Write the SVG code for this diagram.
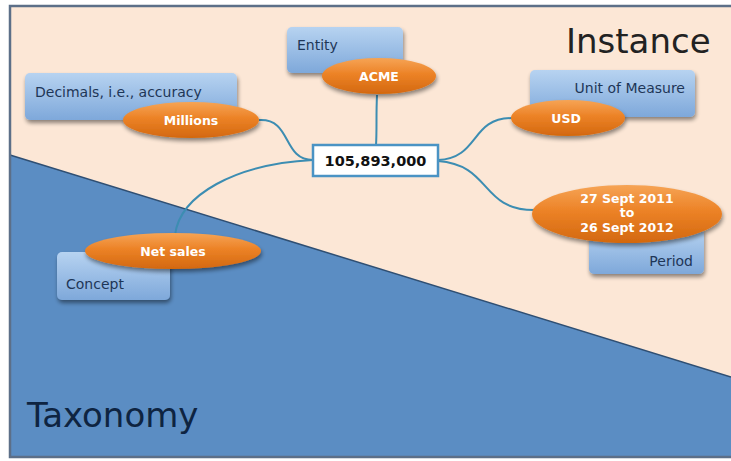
<svg xmlns="http://www.w3.org/2000/svg" width="731" height="461" viewBox="0 0 731 461">
<defs>
<linearGradient id="boxGrad" x1="0" y1="0" x2="0" y2="1">
<stop offset="0" stop-color="#B7D3F1"/>
<stop offset="1" stop-color="#7EA8DA"/>
</linearGradient>
<linearGradient id="ovalGrad" x1="0" y1="0" x2="0" y2="1">
<stop offset="0" stop-color="#F6A455"/>
<stop offset="0.45" stop-color="#EC8226"/>
<stop offset="1" stop-color="#D3680F"/>
</linearGradient>
<filter id="shadow" x="-20%" y="-30%" width="140%" height="170%">
<feGaussianBlur in="SourceAlpha" stdDeviation="2"/>
<feOffset dx="1" dy="3" result="b"/>
<feComponentTransfer><feFuncA type="linear" slope="0.45"/></feComponentTransfer>
<feMerge><feMergeNode/><feMergeNode in="SourceGraphic"/></feMerge>
</filter>
</defs>
<style>
.box{fill:url(#boxGrad);filter:url(#shadow);}
.oval{fill:url(#ovalGrad);filter:url(#shadow);}
.btxt{font-family:"DejaVu Sans",Verdana,sans-serif;font-size:14px;fill:#1E3657;}
.otxt{font-family:"DejaVu Sans",Verdana,sans-serif;font-size:12.5px;font-weight:bold;fill:#FFFFFF;text-anchor:middle;}
.conn{fill:none;stroke:#3C8DB2;stroke-width:2;}
.big{font-family:"DejaVu Sans",Verdana,sans-serif;font-size:34px;}
</style>
<rect x="0" y="0" width="731" height="461" fill="#FFFFFF"/>
<g id="background">
<rect x="10" y="6" width="730" height="451" fill="#FCE7D6"/>
<polygon points="10,155 731,377 731,457 10,457" fill="#5B8DC3"/>
<line x1="10" y1="155" x2="731" y2="377" stroke="#2F4F73" stroke-width="1.5"/>
<rect x="10" y="6" width="730" height="451" fill="none" stroke="#5C6F88" stroke-width="2.5"/>
<text class="big" x="566" y="53" fill="#222222">Instance</text>
<text class="big" x="27" y="427" fill="#0E2441">Taxonomy</text>
</g>
<g id="connectors">
<path class="conn" d="M377,95 C376,115 377,130 376,145"/>
<path class="conn" d="M259,120 C292,118 282,160 313,160"/>
<path class="conn" d="M313,160 C235,164 180,195 175,235"/>
<path class="conn" d="M438,160 C480,158 470,118 512,118"/>
<path class="conn" d="M438,161 C492,165 480,210 534,210"/>
</g>
<g id="entity">
<rect class="box" x="287" y="27" width="116" height="46" rx="5"/>
<text class="btxt" x="297" y="50">Entity</text>
<ellipse class="oval" cx="379" cy="76" rx="57" ry="18"/>
<text class="otxt" x="379" y="81">ACME</text>
</g>
<g id="decimals">
<rect class="box" x="25" y="73" width="212" height="47" rx="5"/>
<text class="btxt" x="35" y="97">Decimals, i.e., accuracy</text>
<ellipse class="oval" cx="191" cy="120" rx="68" ry="18"/>
<text class="otxt" x="191" y="125">Millions</text>
</g>
<g id="unit">
<rect class="box" x="530" y="70" width="165" height="47" rx="5"/>
<text class="btxt" x="685" y="93" text-anchor="end">Unit of Measure</text>
<ellipse class="oval" cx="568" cy="118" rx="57" ry="18"/>
<text class="otxt" x="566" y="123">USD</text>
</g>
<g id="period">
<rect class="box" x="589" y="228" width="115" height="46" rx="5"/>
<text class="btxt" x="693" y="266" text-anchor="end">Period</text>
<ellipse class="oval" cx="627" cy="214" rx="95" ry="29"/>
<text class="otxt" x="627" y="203">27 Sept 2011</text>
<text class="otxt" x="627" y="217" font-size="10">to</text>
<text class="otxt" x="627" y="232">26 Sept 2012</text>
</g>
<g id="concept">
<rect class="box" x="57" y="252" width="113" height="48" rx="5"/>
<text class="btxt" x="66" y="289">Concept</text>
<ellipse class="oval" cx="173" cy="251" rx="88" ry="18"/>
<text class="otxt" x="173" y="256">Net sales</text>
</g>
<g id="value">
<rect x="313" y="145" width="125" height="31" fill="#FFFFFF" stroke="#4A93C4" stroke-width="2.5"/>
<text x="375.5" y="166" text-anchor="middle" font-family="DejaVu Sans, Verdana, sans-serif" font-size="14.5" font-weight="bold" fill="#111111">105,893,000</text>
</g>
</svg>
